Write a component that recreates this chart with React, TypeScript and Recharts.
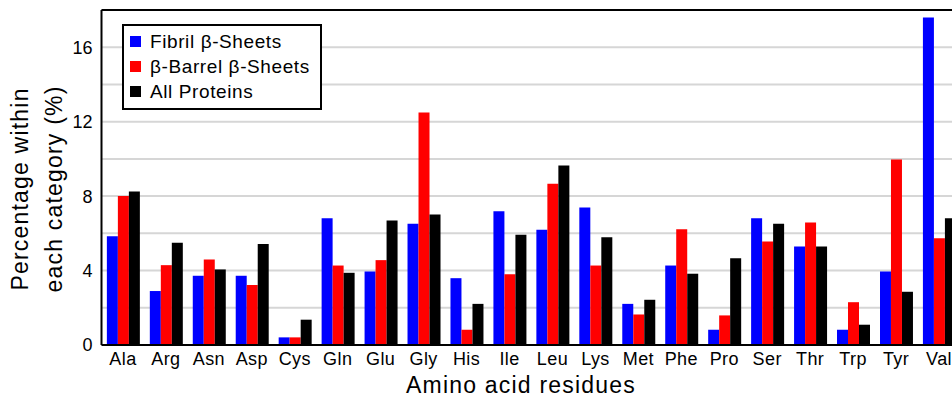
import React from 'react';
import { BarChart, Bar, XAxis, YAxis, CartesianGrid, Legend, ReferenceLine } from 'recharts';

const residues = ['Ala', 'Arg', 'Asn', 'Asp', 'Cys', 'Gln', 'Glu', 'Gly', 'His', 'Ile', 'Leu', 'Lys', 'Met', 'Phe', 'Pro', 'Ser', 'Thr', 'Trp', 'Tyr', 'Val'];
const fibril = [5.85, 2.9, 3.72, 3.72, 0.41, 6.81, 3.95, 6.51, 3.59, 7.19, 6.19, 7.39, 2.21, 4.27, 0.82, 6.81, 5.29, 0.82, 3.95, 17.6];
const barrel = [8.0, 4.29, 4.6, 3.22, 0.41, 4.27, 4.56, 12.49, 0.82, 3.8, 8.66, 4.27, 1.64, 6.22, 1.59, 5.56, 6.58, 2.3, 9.97, 5.74];
const allProteins = [8.25, 5.49, 4.06, 5.43, 1.36, 3.88, 6.69, 7.01, 2.21, 5.92, 9.65, 5.79, 2.43, 3.83, 4.66, 6.51, 5.29, 1.09, 2.86, 6.81];
const yTicks = [0, 2, 4, 6, 8, 10, 12, 14, 16, 18];

const seriesNames = ['Fibril β-Sheets', 'β-Barrel β-Sheets', 'All Proteins'];
const seriesColors = ['#0000ff', '#ff0000', '#000000'];

const FONT = '"Liberation Sans", Arial, Helvetica, sans-serif';

const data = residues.map((r, i) => ({
  residue: r,
  fibril: fibril[i],
  barrel: barrel[i],
  all: allProteins[i],
}));

const LegendBox = () => (
  <div
    style={{
      border: '2px solid #000',
      background: '#fff',
      padding: '3px 8px 4px 6px',
      fontFamily: FONT,
      fontSize: 19,
      letterSpacing: 0.6,
      color: '#000',
      lineHeight: '25px',
      width: 182,
    }}
  >
    {seriesNames.map((name, i) => (
      <div key={name} style={{ display: 'flex', alignItems: 'center' }}>
        <span style={{ display: 'inline-block', width: 11, height: 11, background: seriesColors[i], marginRight: 9 }} />
        <span>{name}</span>
      </div>
    ))}
  </div>
);

const YTitle = () => (
  <g>
    <text x={28} y={189} transform="rotate(-90, 28, 189)" textAnchor="middle" fontFamily={FONT} fontSize={23} letterSpacing={1.2} fill="#000">
      Percentage within
    </text>
    <text x={62} y={189} transform="rotate(-90, 62, 189)" textAnchor="middle" fontFamily={FONT} fontSize={23} letterSpacing={1.2} fill="#000">
      each category (%)
    </text>
  </g>
);

const XTitle = () => (
  <text x={521} y={393} textAnchor="middle" fontFamily={FONT} fontSize={23} letterSpacing={1.2} fill="#000">
    Amino acid residues
  </text>
);

export default function App() {
  return (
    <div style={{ position: 'absolute', left: 0, top: 0, width: 952, height: 400, overflow: 'hidden', background: '#fff' }}>
      <BarChart
        width={980}
        height={400}
        data={data}
        margin={{ top: 10, right: 19.5, left: 0, bottom: 0 }}
        barCategoryGap="12.5%"
        barGap={0}
      >
        <CartesianGrid vertical={false} stroke="#d6d6d6" strokeWidth={2} />
        <XAxis
          dataKey="residue"
          height={55}
          interval={0}
          tickLine={false}
          axisLine={{ stroke: '#000', strokeWidth: 2 }}
          tick={{ fill: '#000', fontSize: 18, fontFamily: FONT, letterSpacing: 0.4 }}
          tickMargin={1}
          label={<XTitle />}
        />
        <YAxis
          width={101.5}
          domain={[0, 18]}
          ticks={yTicks}
          interval={0}
          tickFormatter={(v: number) => (v % 4 === 0 ? String(v) : '')}
          tickLine={false}
          axisLine={{ stroke: '#000', strokeWidth: 2 }}
          tick={{ fill: '#000', fontSize: 18, fontFamily: FONT }}
          tickMargin={3}
          label={<YTitle />}
        />
        <ReferenceLine y={18} stroke="#000" strokeWidth={2} />
        <Legend
          layout="vertical"
          align="center"
          verticalAlign="middle"
          content={<LegendBox />}
          wrapperStyle={{ left: 122, top: 24, width: 'auto' }}
        />
        <Bar dataKey="fibril" name={seriesNames[0]} fill={seriesColors[0]} isAnimationActive={false} />
        <Bar dataKey="barrel" name={seriesNames[1]} fill={seriesColors[1]} isAnimationActive={false} />
        <Bar dataKey="all" name={seriesNames[2]} fill={seriesColors[2]} isAnimationActive={false} />
      </BarChart>
    </div>
  );
}
